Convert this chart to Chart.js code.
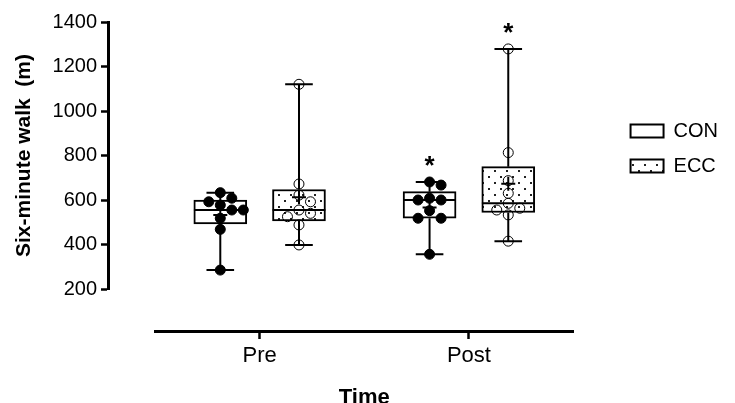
<!DOCTYPE html>
<html>
<head>
<meta charset="utf-8">
<script src="https://cdn.jsdelivr.net/npm/chart.js@4.4.0/dist/chart.umd.min.js"></script>
<style>
  html, body { margin: 0; padding: 0; background: #fff; }
</style>
</head>
<body>
<canvas id="chart" width="735" height="403"></canvas>
<script>
/* Six-minute walk — Pre vs Post, CON vs ECC, box & whiskers (min-max) with subjects */

var times = ['Pre', 'Post'];

// individual subjects (m)
var conPre  = [633, 608, 592, 577, 555, 555, 518, 468, 285];
var conPost = [681, 667, 608, 600, 600, 552, 518, 518, 356];
var eccPre  = [1120, 672, 622, 592, 555, 540, 525, 488, 398];
var eccPost = [1279, 813, 687, 630, 585, 563, 555, 533, 415];

// * = different from Pre
var conStars = [false, true];
var eccStars = [false, true];

var yMin = 200, yMax = 1400, yStep = 100, yLabelStep = 200;

/* layout (x in category units, Pre = 0, Post = 1) */
var GROUP_OFF = 0.188;   // box centre offset from the category
var BOX_HALF  = 0.126;
var CAP_HALF  = 0.066;
var DOT_STEP  = 0.055;   // sideways step for overlapping dots
var DOT_SPAN  = 45;      // value span of one dot
var Y_AXIS_AT = -0.724;  // x value where the detached y axis sits
var X_AXIS_AT = 11;      // y value where the detached x axis sits

Chart.defaults.font.family = '"Liberation Sans", Arial, sans-serif';
Chart.defaults.color = '#000';

function stats(vals) {
  var s = vals.slice().sort(function (a, b) { return a - b; });
  var n = s.length;
  function at(p) {
    var lo = Math.floor(p), hi = Math.ceil(p);
    return s[lo - 1] + (s[hi - 1] - s[lo - 1]) * (p - lo);
  }
  var sum = s.reduce(function (a, b) { return a + b; }, 0);
  return { min: s[0], q1: at((n + 1) / 4), med: at((n + 1) / 2), q3: at(3 * (n + 1) / 4), max: s[n - 1], mean: sum / n };
}

function swarm(vals, cx) {
  var placed = [];
  var idx = vals.map(function (v, k) { return k; }).sort(function (a, b) { return vals[b] - vals[a]; });
  var slots = [0, 1, -1, 2, -2, 3, -3];
  idx.forEach(function (k) {
    var v = vals[k];
    for (var j = 0; j < slots.length; j++) {
      var sl = slots[j];
      var hit = placed.some(function (p) {
        var dx = p.s - sl, dy = (p.v - v) / DOT_SPAN;
        return dx * dx + dy * dy < 1;
      });
      if (!hit) { placed.push({ s: sl, v: v }); break; }
    }
  });
  return placed.map(function (p) { return { x: cx + p.s * DOT_STEP, y: p.v }; });
}

function dotPattern() {
  var c = document.createElement('canvas');
  c.width = 12; c.height = 12;
  var g = c.getContext('2d');
  g.fillStyle = '#fff'; g.fillRect(0, 0, 12, 12);
  g.fillStyle = '#222';
  g.fillRect(2, 2, 2, 2);
  g.fillRect(8, 8, 2, 2);
  return g.createPattern(c, 'repeat');
}

var series = [
  { name: 'CON', sets: [conPre, conPost], off: -GROUP_OFF, stars: conStars, fill: '#fff', dot: '#000' },
  { name: 'ECC', sets: [eccPre, eccPost], off:  GROUP_OFF, stars: eccStars, fill: dotPattern(), dot: 'rgba(0,0,0,0)' }
];
series.forEach(function (s) { s.stats = s.sets.map(stats); });

var boxSets = [], lineSets = [], meanSets = [], dotSets = [];
series.forEach(function (s) {
  var boxes = [], segs = [], means = [], dots = [];
  s.stats.forEach(function (st, i) {
    var cx = i + s.off;
    boxes.push({ x: cx, y: [st.q1, st.q3] });
    segs.push({ x: cx, y: st.min }, { x: cx, y: st.q1 }, { x: cx, y: null });
    segs.push({ x: cx, y: st.q3 }, { x: cx, y: st.max }, { x: cx, y: null });
    segs.push({ x: cx - CAP_HALF, y: st.min }, { x: cx + CAP_HALF, y: st.min }, { x: cx, y: null });
    segs.push({ x: cx - CAP_HALF, y: st.max }, { x: cx + CAP_HALF, y: st.max }, { x: cx, y: null });
    segs.push({ x: cx - BOX_HALF, y: st.med }, { x: cx + BOX_HALF, y: st.med }, { x: cx, y: null });
    means.push({ x: cx, y: st.mean });
    dots = dots.concat(swarm(s.sets[i], cx));
  });
  boxSets.push({
    type: 'bar', label: s.name, data: boxes, order: 4,
    backgroundColor: s.fill, borderColor: '#000', borderWidth: 2, borderSkipped: false,
    barThickness: 53, grouped: false
  });
  lineSets.push({
    type: 'line', label: s.name + ' whiskers', data: segs, order: 3,
    borderColor: '#000', borderWidth: 2, pointRadius: 0, spanGaps: false
  });
  meanSets.push({
    type: 'scatter', label: s.name + ' mean', data: means, order: 2,
    pointStyle: 'cross', pointRadius: 7, borderColor: '#000', borderWidth: 2
  });
  dotSets.push({
    type: 'scatter', label: s.name + ' subjects', data: dots, order: 1,
    pointStyle: 'circle', pointRadius: 5, backgroundColor: s.dot, borderColor: '#000', borderWidth: 1
  });
});

var starPlugin = {
  id: 'stars',
  afterDatasetsDraw: function (chart) {
    var ctx = chart.ctx, xs = chart.scales.x, ys = chart.scales.y;
    ctx.save();
    ctx.font = 'bold 26px "Liberation Sans", Arial, sans-serif';
    ctx.textAlign = 'center';
    ctx.textBaseline = 'alphabetic';
    ctx.fillStyle = '#000';
    series.forEach(function (s) {
      s.stars.forEach(function (on, i) {
        if (!on) return;
        ctx.fillText('*', xs.getPixelForValue(i + s.off), ys.getPixelForValue(s.stats[i].max) - 8);
      });
    });
    ctx.restore();
  }
};

new Chart(document.getElementById('chart'), {
  type: 'bar',
  data: { datasets: boxSets.concat(lineSets, meanSets, dotSets) },
  plugins: [starPlugin],
  options: {
    responsive: false,
    animation: false,
    events: [],
    layout: { padding: { top: 22, bottom: 114, left: 0, right: 7 } },
    plugins: {
      tooltip: { enabled: false },
      legend: {
        position: 'right',
        align: 'start',
        maxWidth: 200,
        // empty title only pushes the two entries down to mid-height
        title: { display: true, text: '', font: { size: 10 }, padding: { top: 72, bottom: 0 } },
        labels: {
          filter: function (item) { return item.datasetIndex < 2; },
          boxWidth: 33, boxHeight: 13, padding: 15, color: '#000', font: { size: 20 }
        }
      }
    },
    scales: {
      x: {
        type: 'linear', min: -0.5, max: 1.5, offset: false,
        position: { y: X_AXIS_AT },
        afterBuildTicks: function (s) { s.ticks = times.map(function (t, i) { return { value: i }; }); },
        ticks: { font: { size: 22 }, color: '#000', padding: 6, callback: function (v) { return times[v]; } },
        grid: { offset: false, drawOnChartArea: false, tickLength: 6, tickWidth: 2.5, tickColor: '#000' },
        border: { color: '#000', width: 3 },
        title: { display: true, text: 'Time', font: { size: 22, weight: 'bold' }, color: '#000', padding: { top: 9 } }
      },
      y: {
        type: 'linear', min: yMin, max: yMax,
        position: { x: Y_AXIS_AT },
        ticks: {
          stepSize: yStep, font: { size: 20 }, color: '#000',
          // detached axis: labels sit on the line, so pad them with spaces
          callback: function (v) { return v % yLabelStep === 0 ? v + '  ' : ''; }
        },
        grid: { drawOnChartArea: false, tickLength: 6, tickWidth: 2.5, tickColor: '#000' },
        border: { color: '#000', width: 3 }
      },
      yTitle: {
        type: 'linear', axis: 'y', position: 'left',
        ticks: { display: false }, grid: { display: false }, border: { display: false },
        title: { display: true, text: 'Six-minute walk  (m)', font: { size: 21, weight: 'bold' }, color: '#000', padding: { top: 12, bottom: 0 } },
        afterFit: function (s) { s.width = 155; }
      },
      gap: {
        type: 'linear', axis: 'y', position: 'right',
        ticks: { display: false }, grid: { display: false }, border: { display: false },
        afterFit: function (s) { s.width = 42; }
      }
    }
  }
});
</script>
</body>
</html>
